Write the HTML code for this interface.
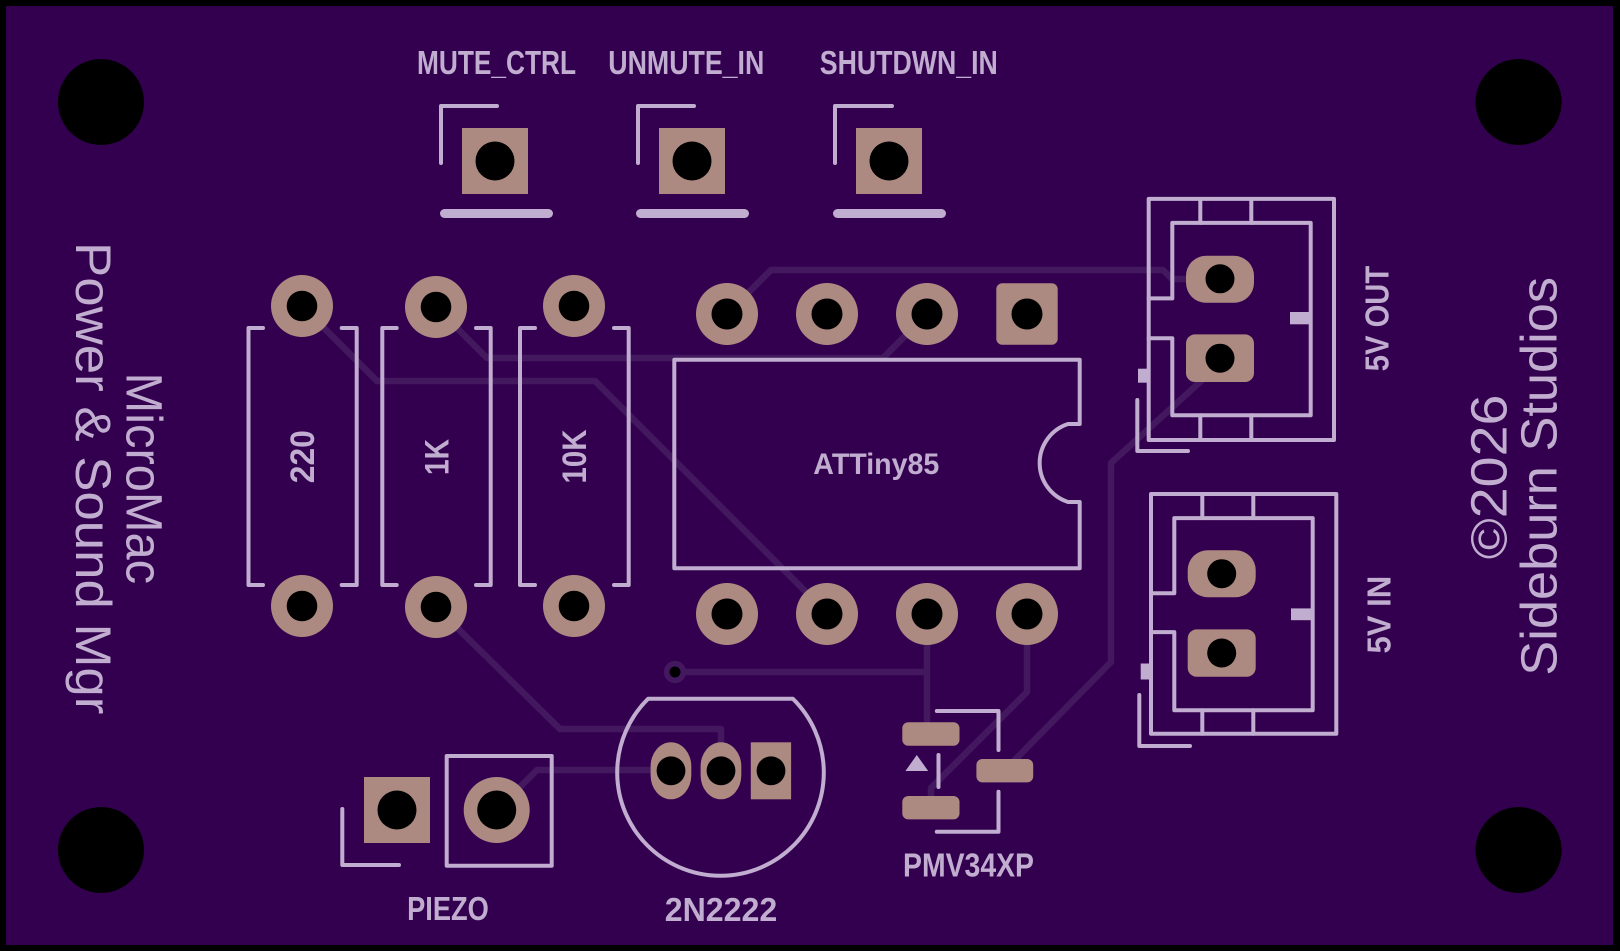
<!DOCTYPE html>
<html><head><meta charset="utf-8"><style>
html,body{margin:0;padding:0;background:#000;}
svg{display:block;}
.s{fill:none;stroke:#c0adcf;stroke-width:4;stroke-linecap:round;stroke-linejoin:round;}
.t{fill:none;stroke:#43185f;stroke-width:6.5;stroke-linecap:round;stroke-linejoin:round;}
.p{fill:#ad8a81;}
.h{fill:#000;}
.lb{font-family:"Liberation Sans",sans-serif;font-weight:bold;fill:#c0adcf;}
.lr{font-family:"Liberation Sans",sans-serif;fill:#c0adcf;}
</style></head><body>
<svg width="1620" height="951" viewBox="0 0 1620 951" xmlns="http://www.w3.org/2000/svg">
<rect x="0" y="0" width="1620" height="951" fill="#000"/>
<rect x="6" y="6" width="1607" height="939" fill="#33004f"/>

<!-- traces -->
<polyline class="t" points="727,314 771,270 1163,270 1172,279 1220,279"/>
<polyline class="t" points="302,306 377,381 595,381 828,614"/>
<polyline class="t" points="436,307 487,358 883,358 927,314"/>
<polyline class="t" points="1222,362 1111,463 1111,662 1005,770"/>
<polyline class="t" points="927,614 927,734"/>
<polyline class="t" points="675,672 927,672"/>
<polyline class="t" points="1027,614 1027,692 931,788 931,808"/>
<polyline class="t" points="436,607 560,729 721,729 721,771"/>
<polyline class="t" points="497,810 537,770 671,770"/>
<circle cx="675" cy="672" r="11.2" fill="#43185f"/>
<circle cx="675" cy="672" r="5.5" fill="#000"/>

<!-- mounting holes -->
<circle class="h" cx="101" cy="102" r="43"/>
<circle class="h" cx="1518.6" cy="102" r="43"/>
<circle class="h" cx="101" cy="850" r="43"/>
<circle class="h" cx="1518.6" cy="850" r="43"/>

<!-- headers -->
<path class="s" d="M441,163 V106 H497"/>
<rect class="p" x="462" y="128" width="66" height="66"/>
<circle class="h" cx="495" cy="161" r="19.5"/>
<line x1="444.5" y1="213.5" x2="548.5" y2="213.5" stroke="#c0adcf" stroke-width="9" stroke-linecap="round"/>

<path class="s" d="M638,163 V106 H694"/>
<rect class="p" x="659" y="128" width="66" height="66"/>
<circle class="h" cx="692" cy="161" r="19.5"/>
<line x1="640.5" y1="213.5" x2="744.5" y2="213.5" stroke="#c0adcf" stroke-width="9" stroke-linecap="round"/>

<path class="s" d="M835,163 V106 H892"/>
<rect class="p" x="856" y="128" width="66" height="66"/>
<circle class="h" cx="889" cy="161" r="19.5"/>
<line x1="837.5" y1="213.5" x2="941.5" y2="213.5" stroke="#c0adcf" stroke-width="9" stroke-linecap="round"/>

<text class="lb" x="496.5" y="74" font-size="33" text-anchor="middle" textLength="159" lengthAdjust="spacingAndGlyphs">MUTE_CTRL</text>
<text class="lb" x="686.3" y="74" font-size="33" text-anchor="middle" textLength="156" lengthAdjust="spacingAndGlyphs">UNMUTE_IN</text>
<text class="lb" x="908.8" y="74" font-size="33" text-anchor="middle" textLength="178" lengthAdjust="spacingAndGlyphs">SHUTDWN_IN</text>

<!-- resistors -->
<path class="s" d="M263,328 H248.5 V585 H263 M341.7,328 H356.7 V585 H341.7"/>
<path class="s" d="M396.7,328 H382.3 V585 H396.7 M476,328 H490.7 V585 H476"/>
<path class="s" d="M535,328 H520 V585 H535 M614,328 H628.7 V585 H614"/>
<circle class="p" cx="302" cy="306" r="31"/><circle class="h" cx="302" cy="306" r="15.3"/>
<circle class="p" cx="302" cy="606" r="31"/><circle class="h" cx="302" cy="606" r="15.3"/>
<circle class="p" cx="436" cy="307" r="31"/><circle class="h" cx="436" cy="307" r="15.3"/>
<circle class="p" cx="436" cy="607" r="31"/><circle class="h" cx="436" cy="607" r="15.3"/>
<circle class="p" cx="574" cy="306" r="31"/><circle class="h" cx="574" cy="306" r="15.3"/>
<circle class="p" cx="574" cy="606" r="31"/><circle class="h" cx="574" cy="606" r="15.3"/>
<text class="lb" transform="translate(314,456.7) rotate(-90)" font-size="34" text-anchor="middle" textLength="53" lengthAdjust="spacingAndGlyphs">220</text>
<text class="lb" transform="translate(448.3,457) rotate(-90)" font-size="34" text-anchor="middle" textLength="36" lengthAdjust="spacingAndGlyphs">1K</text>
<text class="lb" transform="translate(586,456.5) rotate(-90)" font-size="34" text-anchor="middle" textLength="54" lengthAdjust="spacingAndGlyphs">10K</text>

<!-- ATtiny85 -->
<path class="s" d="M1079.7,424 V359.7 H674.3 V568.3 H1079.7 V502 H1068 A41,41 0 0 1 1068,424 H1079.7"/>
<circle class="p" cx="727" cy="314" r="31"/><circle class="h" cx="727" cy="314" r="15.5"/>
<circle class="p" cx="827" cy="314" r="31"/><circle class="h" cx="827" cy="314" r="15.5"/>
<circle class="p" cx="927" cy="314" r="31"/><circle class="h" cx="927" cy="314" r="15.5"/>
<rect class="p" x="996.3" y="283.3" width="61.4" height="61.4" rx="6"/><circle class="h" cx="1027" cy="314" r="15.5"/>
<circle class="p" cx="727" cy="614" r="31"/><circle class="h" cx="727" cy="614" r="15.5"/>
<circle class="p" cx="827" cy="614" r="31"/><circle class="h" cx="827" cy="614" r="15.5"/>
<circle class="p" cx="927" cy="614" r="31"/><circle class="h" cx="927" cy="614" r="15.5"/>
<circle class="p" cx="1027" cy="614" r="31"/><circle class="h" cx="1027" cy="614" r="15.5"/>
<text class="lb" x="876.3" y="474" font-size="30" text-anchor="middle" textLength="126" lengthAdjust="spacingAndGlyphs">ATTiny85</text>

<!-- connector 5V OUT -->
<g>
<rect class="s" x="1148.7" y="198.9" width="185.3" height="241.1"/>
<path class="s" d="M1148.7,298.4 H1172.3 V222.9 H1310.7 V415.3 H1172.3 V338.3 H1148.7"/>
<path class="s" d="M1200.3,198.9 V222.9 M1251.3,198.9 V222.9 M1200.3,415.3 V440 M1251.3,415.3 V440"/>
<rect fill="#c0adcf" x="1138" y="368.7" width="11" height="14"/>
<rect fill="#c0adcf" x="1290" y="312" width="20" height="12.3"/>
<path class="s" d="M1137.3,400 V451 H1188"/>
<rect class="p" x="1186" y="255.8" width="68" height="47" rx="20"/><circle class="h" cx="1220" cy="278.8" r="14.5"/>
<rect class="p" x="1186" y="334.4" width="68" height="47.6" rx="9"/><circle class="h" cx="1220" cy="358.2" r="14.5"/>
</g>
<!-- connector 5V IN -->
<g>
<rect class="s" x="1151" y="494" width="185.3" height="239.8"/>
<path class="s" d="M1151,593.2 H1174.3 V518.1 H1312.7 V710.2 H1174.3 V632.1 H1151"/>
<path class="s" d="M1202.3,494 V518.1 M1253.3,494 V518.1 M1202.3,710.2 V733.8 M1253.3,710.2 V733.8"/>
<rect fill="#c0adcf" x="1140.7" y="663.5" width="11" height="16"/>
<rect fill="#c0adcf" x="1291" y="608.4" width="21" height="11.8"/>
<path class="s" d="M1139.3,695 V746 H1190"/>
<rect class="p" x="1187.7" y="550.2" width="68" height="47" rx="20"/><circle class="h" cx="1221.7" cy="573.7" r="14.5"/>
<rect class="p" x="1187.7" y="629.4" width="68" height="47.4" rx="9"/><circle class="h" cx="1221.7" cy="653" r="14.5"/>
</g>
<text class="lb" transform="translate(1388.3,318.5) rotate(-90)" font-size="33" text-anchor="middle" textLength="105.4" lengthAdjust="spacingAndGlyphs">5V OUT</text>
<text class="lb" transform="translate(1390.7,614.7) rotate(-90)" font-size="33" text-anchor="middle" textLength="77.7" lengthAdjust="spacingAndGlyphs">5V IN</text>
<text class="lr" transform="translate(1506.7,476.9) rotate(-90)" font-size="51" text-anchor="middle" textLength="164.6" lengthAdjust="spacingAndGlyphs">©2026</text>
<text class="lr" transform="translate(1556.7,476.3) rotate(-90)" font-size="51" text-anchor="middle" textLength="398.8" lengthAdjust="spacingAndGlyphs">Sideburn Studios</text>

<!-- left title -->
<text class="lr" transform="translate(126.7,478.3) rotate(90)" font-size="51" text-anchor="middle" textLength="211.5" lengthAdjust="spacingAndGlyphs">MicroMac</text>
<text class="lr" transform="translate(76,478.2) rotate(90)" font-size="50" text-anchor="middle" textLength="472.3" lengthAdjust="spacingAndGlyphs">Power &amp; Sound Mgr</text>

<!-- 2N2222 -->
<path class="s" d="M648.2,698.7 H792.8 A103.3,103.3 0 1 1 648.2,698.7 Z"/>
<rect class="p" x="650.6" y="742.3" width="40.7" height="57" rx="20.3" ry="24"/><circle class="h" cx="671" cy="770.8" r="14.4"/>
<rect class="p" x="700.6" y="742.3" width="40.7" height="57" rx="20.3" ry="24"/><circle class="h" cx="721" cy="770.8" r="14.4"/>
<rect class="p" x="750.8" y="742.3" width="40.3" height="57"/><circle class="h" cx="771" cy="770.8" r="14.4"/>
<text class="lb" x="721" y="921" font-size="33" text-anchor="middle" textLength="112.6" lengthAdjust="spacingAndGlyphs">2N2222</text>

<!-- PMV34XP -->
<path class="s" d="M936.8,711 H998.5 V750 M998.5,791.7 V831.7 H936.8 M938.5,755 V787"/>
<polygon points="916.8,755 905.4,771 928.2,771" fill="#c0adcf"/>
<rect class="p" x="902.3" y="722.3" width="57.2" height="23.4" rx="6"/>
<rect class="p" x="902.3" y="796" width="57.2" height="23.4" rx="6"/>
<rect class="p" x="976.4" y="759" width="56.8" height="23.4" rx="6"/>
<text class="lb" x="968.5" y="876.7" font-size="33" text-anchor="middle" textLength="131" lengthAdjust="spacingAndGlyphs">PMV34XP</text>

<!-- PIEZO -->
<path class="s" d="M342.3,809 V865 H399"/>
<rect class="s" x="446.7" y="756" width="105" height="109.7"/>
<rect class="p" x="364" y="777" width="66" height="66"/><circle class="h" cx="397" cy="810" r="19.5"/>
<circle class="p" cx="496.7" cy="810" r="33"/><circle class="h" cx="496.7" cy="810" r="19.5"/>
<text class="lb" x="448" y="920" font-size="33" text-anchor="middle" textLength="81.7" lengthAdjust="spacingAndGlyphs">PIEZO</text>
</svg>
</body></html>
